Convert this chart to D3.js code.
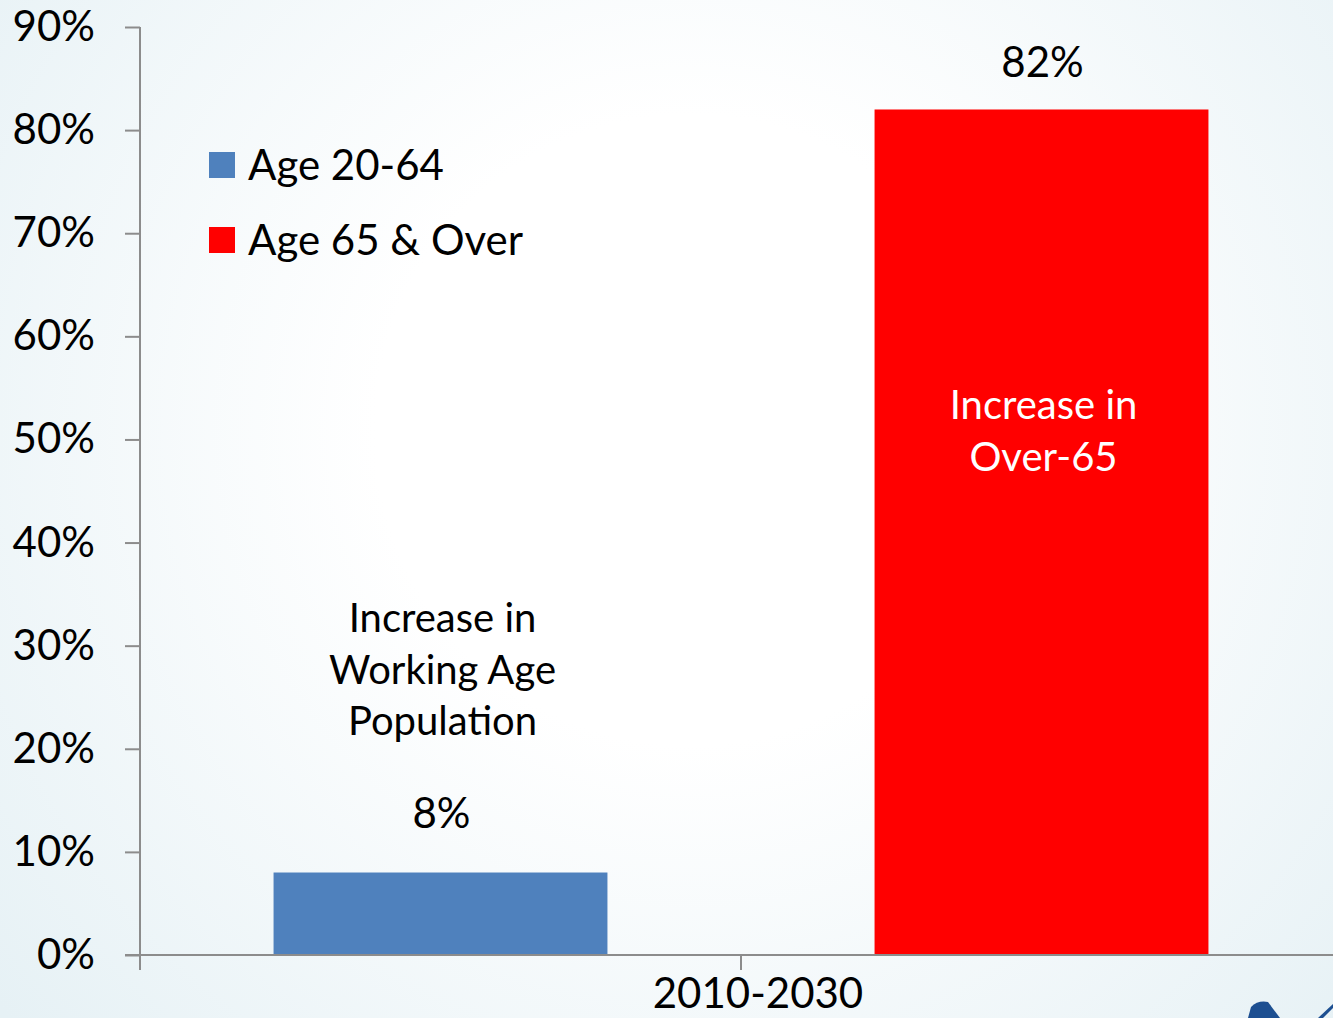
<!DOCTYPE html>
<html>
<head>
<meta charset="utf-8">
<script src="https://cdn.jsdelivr.net/npm/d3@7"></script>
<style>
  html, body { margin: 0; padding: 0; overflow: hidden; }
  svg { display: block; font-family: "Lato", "Open Sans", sans-serif; }
</style>
</head>
<body>
<svg id="chart" width="1333" height="1018"></svg>
<script>
// Population growth by age group, 2010-2030
const category = "2010-2030";
const seriesNames = ["Age 20-64", "Age 65 & Over"];
const seriesValues = [8, 82];
const seriesColors = ["#4f81bd", "#ff0000"];
const barNotes = [["Increase in", "Working Age", "Population"], ["Increase in", "Over-65"]];
const yTicks = [0, 10, 20, 30, 40, 50, 60, 70, 80, 90];

const W = 1333, H = 1018;
const svg = d3.select("#chart");

// soft radial backdrop
const defs = svg.append("defs");
const rg = defs.append("radialGradient").attr("id", "bg")
  .attr("gradientUnits", "userSpaceOnUse")
  .attr("cx", 690).attr("cy", 430).attr("r", 900);
rg.append("stop").attr("offset", "0").attr("stop-color", "#ffffff");
rg.append("stop").attr("offset", "0.35").attr("stop-color", "#ffffff");
rg.append("stop").attr("offset", "1").attr("stop-color", "#e6f1f5");
svg.append("rect").attr("width", W).attr("height", H).attr("fill", "url(#bg)");

const plotLeft = 140, plotRight = 1342, plotBottom = 955, plotTop = 27;
const y = d3.scaleLinear().domain([0, 90]).range([plotBottom, plotTop]);
const x = d3.scaleBand().domain(seriesNames).range([plotLeft, plotRight])
  .paddingInner(0.8 / 1.8).paddingOuter(0.4 / 1.8);
const xCat = d3.scaleBand().domain([category]).range([plotLeft, plotRight]);

const axisColor = "#8c8c8c";
const fontSize = 42;

// bars
svg.append("g").selectAll("rect").data(seriesNames).join("rect")
  .attr("x", d => x(d))
  .attr("y", (d, i) => y(seriesValues[i]))
  .attr("width", x.bandwidth())
  .attr("height", (d, i) => y(0) - y(seriesValues[i]))
  .attr("fill", (d, i) => seriesColors[i]);

// y axis
const yAxis = svg.append("g").attr("transform", `translate(${plotLeft},0)`)
  .call(d3.axisLeft(y).tickValues(yTicks).tickSize(15).tickPadding(30)
    .tickFormat(d => d + "%"));
yAxis.select(".domain").remove();
yAxis.selectAll(".tick line").attr("stroke", axisColor).attr("stroke-width", 2);
yAxis.selectAll(".tick text").attr("font-size", fontSize).attr("fill", "#000")
  .attr("font-family", "Lato, 'Open Sans', sans-serif");

// axis lines
svg.append("line").attr("x1", plotLeft).attr("x2", plotLeft).attr("y1", plotTop).attr("y2", plotBottom + 15)
  .attr("stroke", axisColor).attr("stroke-width", 2);
svg.append("line").attr("x1", plotLeft - 15).attr("x2", W).attr("y1", plotBottom).attr("y2", plotBottom)
  .attr("stroke", axisColor).attr("stroke-width", 2);

// category tick and label
const cx = xCat(category) + xCat.bandwidth() / 2;
svg.append("line").attr("x1", cx).attr("x2", cx).attr("y1", plotBottom).attr("y2", plotBottom + 15)
  .attr("stroke", axisColor).attr("stroke-width", 2);
svg.append("text").attr("x", cx + 17).attr("y", 1008).attr("text-anchor", "middle")
  .attr("font-size", fontSize).attr("fill", "#000").text(category);

// value labels
const valueGap = [45, 32];
svg.append("g").selectAll("text").data(seriesNames).join("text")
  .attr("x", d => x(d) + x.bandwidth() / 2 + 1)
  .attr("y", (d, i) => y(seriesValues[i]) - valueGap[i])
  .attr("text-anchor", "middle")
  .attr("font-size", fontSize).attr("fill", "#000")
  .text((d, i) => seriesValues[i] + "%");

// notes: above the short bar in black, inside the tall bar in white
const noteTop = [632, 419];
const noteFill = ["#000", "#fff"];
seriesNames.forEach((s, i) => {
  const t = svg.append("text").attr("text-anchor", "middle")
    .attr("font-size", 40).attr("fill", noteFill[i]);
  barNotes[i].forEach((line, j) => {
    t.append("tspan").attr("x", x(s) + x.bandwidth() / 2 + 2)
      .attr("y", noteTop[i] + j * 51.5).text(line);
  });
});

// legend
const legend = svg.append("g").attr("transform", "translate(209,152)");
seriesNames.forEach((s, i) => {
  const g = legend.append("g").attr("transform", `translate(0,${i * 75})`);
  g.append("rect").attr("width", 26).attr("height", 26).attr("fill", seriesColors[i]);
  g.append("text").attr("x", 39).attr("y", 13).attr("dy", "0.35em")
    .attr("font-size", fontSize).attr("fill", "#000").text(s);
});

// corner emblem
const emblem = svg.append("g").attr("fill", "#1d4f91");
emblem.append("path").attr("d", "M1248,1018 L1251,1007 Q1258,1000 1268,1002 L1280,1018 Z");
emblem.append("path").attr("d", "M1318,1018 L1333,1004 L1333,1008 L1323,1018 Z");
</script>
</body>
</html>
